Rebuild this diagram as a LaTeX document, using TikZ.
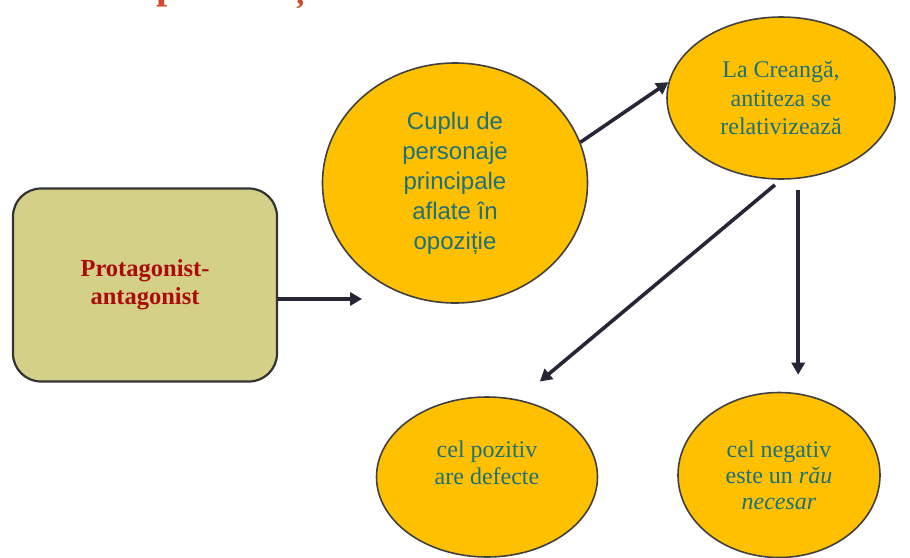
\documentclass[tikz,border=0pt]{standalone}
\usepackage{fontspec}
\setmainfont{Liberation Serif}
\newfontfamily\arialfont{Liberation Sans}
\usetikzlibrary{shapes.geometric,arrows.meta}
\definecolor{titlered}{RGB}{210,72,42}
\definecolor{boxfill}{RGB}{213,208,135}
\definecolor{darkred}{RGB}{170,12,12}
\definecolor{tealtxt}{RGB}{30,112,122}
\definecolor{ovalfill}{RGB}{255,192,0}
\definecolor{arrowcol}{RGB}{38,38,56}
\begin{document}
\begin{tikzpicture}[x=1pt,y=-1pt]
\tikzset{oval/.style={draw=black!75, line width=1.6pt, fill=ovalfill, ellipse, inner sep=0pt, align=center, text=tealtxt},
  conn/.style={draw=arrowcol, line width=3.6pt, -{Triangle[length=12pt,width=13pt]}}}
\useasboundingbox (0,0) rectangle (910,557);
\clip (0,0) rectangle (910,557);
\node[anchor=base west, text=titlered, font=\fontsize{40}{40}\selectfont\bfseries] (titlu) at (46,-2) {Concepte esențiale};
\node[draw=black!80, line width=2.2pt, fill=boxfill, rounded corners=28pt, minimum width=264pt, minimum height=193pt, align=center, text=darkred, font=\fontsize{24.5}{28}\selectfont\bfseries] (cutie) at (145,285) {Protagonist-\\antagonist};
\node[oval, minimum width=265pt, minimum height=240pt, font=\arialfont\fontsize{24}{30}\selectfont] (cuplu) at (455,183) {Cuplu de\\personaje\\principale\\aflate în\\opoziție};
\node[oval, minimum width=228pt, minimum height=162pt, font=\fontsize{24}{28.5}\selectfont] (creanga) at (781,98) {La Creangă,\\antiteza se\\relativizează};
\node[oval, minimum width=221pt, minimum height=160pt] (pozitiv) at (487,477) {};
\node[align=center, text=tealtxt, font=\fontsize{24}{27}\selectfont] (pozitivtxt) at (487,463) {cel pozitiv\\are defecte};
\node[oval, minimum width=202pt, minimum height=165pt, font=\fontsize{24}{26}\selectfont] (negativ) at (779,475) {cel negativ\\este un \textit{rău}\\\textit{necesar}};
\draw[conn] (cutie.-6) -- ++(84,0);
\draw[conn] (cuplu.18) -- (creanga.172);
\draw[conn, shorten <=8pt, shorten >=28pt] (creanga.south) -- (pozitiv.68);
\draw[conn, shorten <=11pt, shorten >=17pt] (creanga.-78) -- (creanga.-78 |- negativ.north);
\end{tikzpicture}
\end{document}
